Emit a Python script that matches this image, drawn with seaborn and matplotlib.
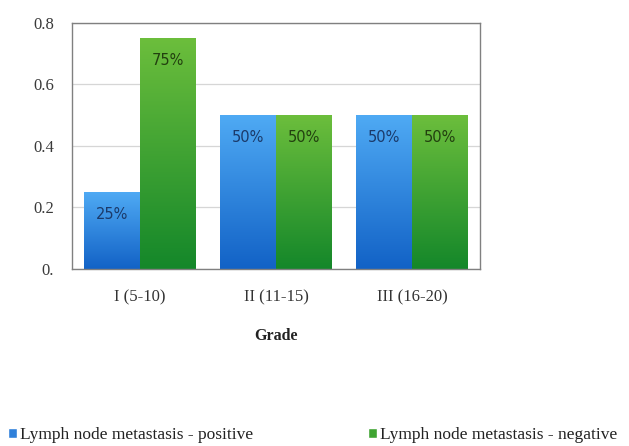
import numpy as np
import pandas as pd
import matplotlib
matplotlib.use("Agg")
import matplotlib.pyplot as plt
import seaborn as sns
from matplotlib.colors import LinearSegmentedColormap
from matplotlib.patches import Patch

categories = ["I (5-10)", "II (11-15)", "III (16-20)"]
series_names = ["Lymph node metastasis - positive", "Lymph node metastasis - negative"]
positive = [0.25, 0.50, 0.50]
negative = [0.75, 0.50, 0.50]
pos_labels = ["25%", "50%", "50%"]
neg_labels = ["75%", "50%", "50%"]
y_ticks = [0.0, 0.2, 0.4, 0.6, 0.8]
y_tick_labels = ["0.", "0.2", "0.4", "0.6", "0.8"]

df = pd.DataFrame({
    "Grade": categories * 2,
    "Series": [series_names[0]] * 3 + [series_names[1]] * 3,
    "Value": positive + negative,
})

sns.set_theme(style="white")
plt.rcParams["font.family"] = ["Liberation Serif", "DejaVu Serif"]

fig = plt.figure(figsize=(6.29, 4.46), dpi=100)
ax = fig.add_axes([0.1145, 0.397, 0.6485, 0.552])

base_colors = ["#2f86e0", "#3fa431"]
sns.barplot(data=df, x="Grade", y="Value", hue="Series", order=categories,
            hue_order=series_names, palette=base_colors, width=0.82,
            saturation=1, legend=False, ax=ax)

grads = [
    LinearSegmentedColormap.from_list("b", ["#1262c6", "#4faaf4"]),
    LinearSegmentedColormap.from_list("g", ["#14872a", "#6cbe3c"]),
]
label_colors = ["#1b3a6a", "#22400f"]
labels_all = [pos_labels, neg_labels]

for si, cont in enumerate(ax.containers):
    for bi, bar in enumerate(cont):
        x0, y0 = bar.get_x(), bar.get_y()
        w, h = bar.get_width(), bar.get_height()
        grad = np.linspace(0, 1, 256).reshape(-1, 1)
        im = ax.imshow(grad, cmap=grads[si], origin="lower", aspect="auto",
                       extent=[x0, x0 + w, y0, y0 + h], zorder=bar.get_zorder())
        im.set_clip_path(bar)
        bar.set_facecolor("none")
        bar.set_edgecolor("none")
        ax.text(x0 + w / 2, y0 + h - 0.072, labels_all[si][bi], ha="center",
                va="center", fontsize=10.5, color=label_colors[si], zorder=5,
                family=["DejaVu Sans"])

ax.set_xlim(-0.5, 2.5)
ax.set_ylim(0, 0.8)
ax.set_yticks(y_ticks)
ax.set_yticklabels(y_tick_labels)
ax.yaxis.grid(True, color="#d6d6d6", linewidth=0.9)
ax.set_axisbelow(True)
for s in ax.spines.values():
    s.set_color("#808080")
    s.set_linewidth(1.0)
ax.tick_params(axis="y", length=0, pad=13, labelsize=12, labelcolor="#3a3a3a")
ax.tick_params(axis="x", length=0, pad=15, labelsize=12, labelcolor="#333333")
ax.set_ylabel("")
ax.set_xlabel("Grade", fontsize=11.5, fontweight="bold", labelpad=16, color="#222222")

handles = [Patch(facecolor="#2f80da"), Patch(facecolor="#3fa431")]
fig.legend(handles, series_names, loc="lower left", bbox_to_anchor=(-0.012, -0.028),
           ncol=2, frameon=False, fontsize=12.5, handlelength=0.5, handleheight=0.5,
           handletextpad=0.2, columnspacing=6.6, labelcolor="#222222")

fig.savefig("out.png", dpi=100)
